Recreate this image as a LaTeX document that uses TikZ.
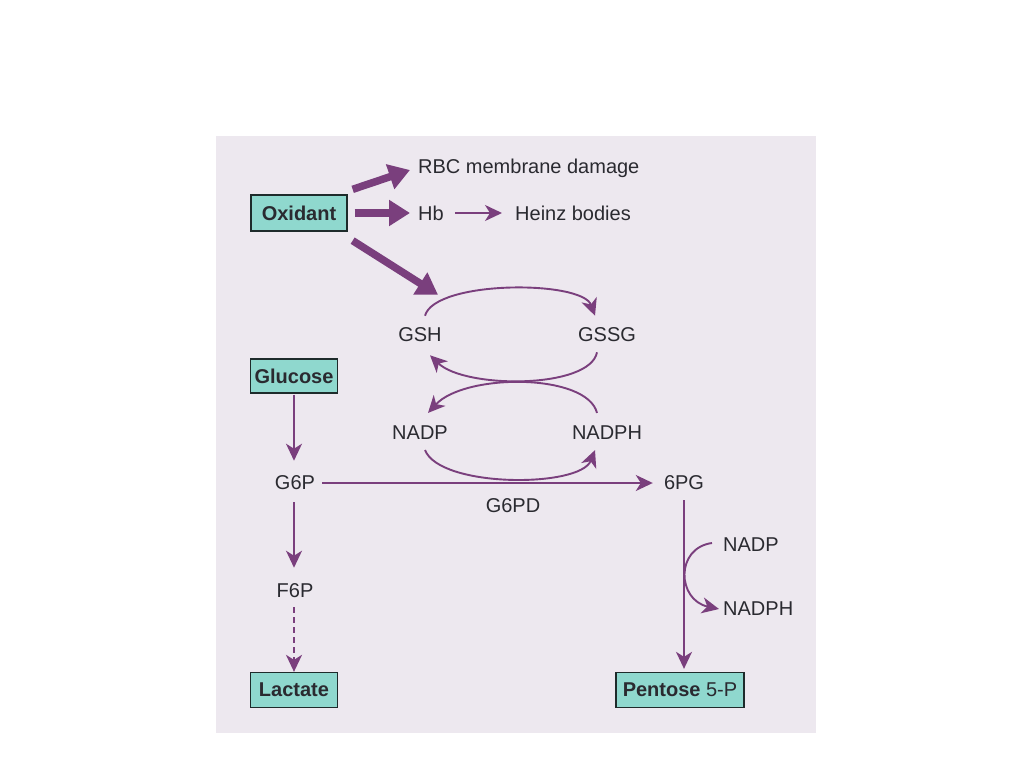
\documentclass[tikz,border=0pt]{standalone}
\usepackage{fontspec}
\setmainfont{Liberation Sans}
\usetikzlibrary{arrows.meta,calc}
\definecolor{pur}{HTML}{7A3F7D}
\definecolor{boxfill}{HTML}{8FD8CE}
\definecolor{boxline}{HTML}{1E2B2B}
\definecolor{txtc}{HTML}{2A2A30}
\definecolor{panel}{HTML}{EDE8EF}
\begin{document}
\begin{tikzpicture}[x=1pt,y=-1pt,
  txt/.style={inner sep=0pt, font=\fontsize{20}{24}\selectfont, text=txtc},
  box/.style={draw=boxline, line width=1.3pt, fill=boxfill, inner sep=0pt,
    font=\fontsize{20}{24}\selectfont\bfseries, text=txtc},
  thinarr/.style={draw=pur, line width=1.9pt, -{Stealth[length=17pt,width=16pt,inset=5pt]}},
  fatarr/.style={draw=pur, line width=7.5pt, -{Triangle[length=21pt,width=25pt]}},
]
\useasboundingbox (0,0) rectangle (1024,768);
\fill[white] (0,0) rectangle (1024,768);
\fill[panel] (216,136) rectangle (816,733);

% nodes
\node[box, minimum width=96pt, minimum height=36pt] (ox) at (299,213) {Oxidant};
\node[txt, anchor=west] (rbc) at (418,168) {RBC membrane damage};
\node[txt, anchor=west] (hb) at (418,213) {Hb};
\node[txt, anchor=west] (heinz) at (515,213) {Heinz bodies};
\node[txt] (gsh) at (420,335) {GSH};
\node[txt] (gssg) at (607,335) {GSSG};
\node[txt] (nadpa) at (420,433) {NADP};
\node[txt] (nadpha) at (607,433) {NADPH};
\node[box, minimum width=87pt, minimum height=34pt] (glu) at (294,376) {Glucose};
\node[txt] (g6p) at (295,483) {G6P};
\node[txt] (g6pd) at (513,506) {G6PD};
\node[txt] (pg) at (684,483) {6PG};
\node[txt] (f6p) at (295,591) {F6P};
\node[box, minimum width=87pt, minimum height=35pt] (lac) at (294,690) {Lactate};
\node[box, minimum width=128pt, minimum height=35pt] (pent) at (680,690) {Pentose \mdseries 5-P};
\node[txt, anchor=west] (nadpb) at (723,545) {NADP};
\node[txt, anchor=west] (nadphb) at (723,609) {NADPH};

% thick oxidant arrows
\draw[fatarr] ($(ox.north east)+(5,-5)$) -- ($(rbc.west)+(-8,2)$);
\draw[fatarr] ($(ox.east)+(7,0)$) -- ($(hb.west)+(-8,0)$);
\draw[fatarr] ($(ox.south east)+(5,9)$) -- ($(gsh.north)+(18,-33)$);

% Hb -> Heinz
\draw[thinarr, shorten <=11pt, shorten >=13pt] (hb.east) -- (heinz.west);

% glutathione cycle
\draw[thinarr] ($(gsh.north)+(5,-12)$) .. controls (435,280) and (582,280) .. ($(gssg.north)+(-12,-12)$);
\draw[thinarr] ($(gssg.south)+(-10,10)$) .. controls (590,389) and (465,389) .. ($(gsh.south)+(10,13)$);
\draw[thinarr] ($(nadpha.north)+(-10,-13)$) .. controls (587,373) and (465,373) .. ($(nadpa.north)+(8,-13)$);
\draw[thinarr] ($(nadpa.south)+(5,10)$) .. controls (440,488) and (580,488) .. ($(nadpha.south)+(-12,10)$);

% glycolysis
\draw[thinarr, shorten <=1pt, shorten >=15pt] (glu.south) -- (glu.south |- g6p.north);
\draw[thinarr, shorten <=12pt, shorten >=16pt] (glu.south |- g6p.south) -- (glu.south |- f6p.north);
\draw[thinarr, dash pattern=on 6pt off 4pt, shorten <=9pt, shorten >=0pt] (glu.south |- f6p.south) -- (lac.north);

% pentose phosphate
\draw[thinarr, shorten <=7pt, shorten >=11pt] (g6p.east) -- (pg.west);
\draw[thinarr, shorten <=10pt, shorten >=3pt] (pg.south) -- (pg.south |- pent.north);
\draw[thinarr] ($(nadpb.west)+(-11,-2)$) .. controls (675,548) and (677,600) .. ($(nadphb.west)+(-4,0)$);
\end{tikzpicture}
\end{document}
